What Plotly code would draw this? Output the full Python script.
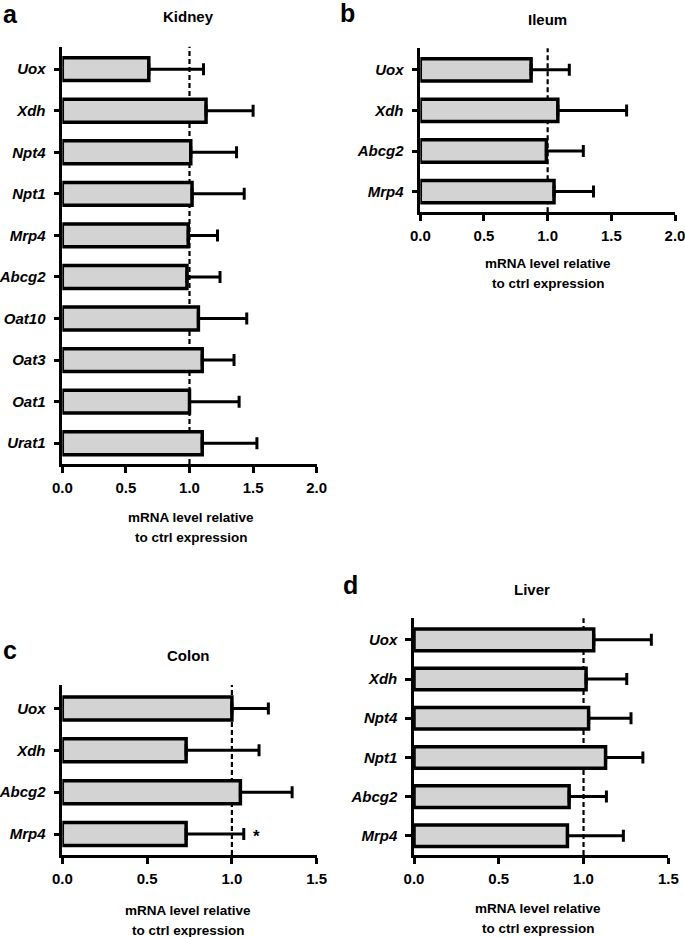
import plotly.graph_objects as go

W, H = 685, 937

# ---------------- data ----------------
kidney_genes = ["Uox", "Xdh", "Npt4", "Npt1", "Mrp4", "Abcg2", "Oat10", "Oat3", "Oat1", "Urat1"]
kidney_mean = [0.68, 1.13, 1.01, 1.02, 0.99, 0.98, 1.07, 1.10, 1.00, 1.10]
kidney_err = [0.43, 0.37, 0.36, 0.41, 0.23, 0.26, 0.38, 0.25, 0.39, 0.43]

ileum_genes = ["Uox", "Xdh", "Abcg2", "Mrp4"]
ileum_mean = [0.87, 1.08, 0.99, 1.05]
ileum_err = [0.30, 0.54, 0.29, 0.31]

colon_genes = ["Uox", "Xdh", "Abcg2", "Mrp4"]
colon_mean = [1.00, 0.73, 1.05, 0.73]
colon_err = [0.215, 0.43, 0.305, 0.34]

liver_genes = ["Uox", "Xdh", "Npt4", "Npt1", "Abcg2", "Mrp4"]
liver_mean = [1.06, 1.015, 1.03, 1.13, 0.915, 0.905]
liver_err = [0.34, 0.24, 0.25, 0.22, 0.22, 0.33]

panel_letters = ["a", "b", "c", "d"]
panel_titles = ["Kidney", "Ileum", "Colon", "Liver"]
axis_title_lines = ["mRNA level relative", "to ctrl expression"]
x_max = [2.0, 2.0, 1.5, 1.5]
colon_star_gene = "Mrp4"

FONT = "Arial, Liberation Sans, sans-serif"


def px_x(px):
    return px / W


def px_y(py):
    return 1 - py / H


# panel geometry in pixels: (x0, x1, y_top, y_bottom, top_pad, bottom_pad)
geom = [
    (62.3, 316.7, 46.7, 464.0, 0.54, 0.50),
    (420.3, 675.0, 48.3, 212.3, 0.53, 0.51),
    (62.3, 316.7, 685.0, 855.0, 0.56, 0.50),
    (414.0, 668.3, 618.3, 855.0, 0.55, 0.49),
]

panels = [
    (kidney_genes, kidney_mean, kidney_err),
    (ileum_genes, ileum_mean, ileum_err),
    (colon_genes, colon_mean, colon_err),
    (liver_genes, liver_mean, liver_err),
]

fig = go.Figure()
layout = dict(
    width=W, height=H, autosize=False,
    margin=dict(l=0, r=0, t=0, b=0, pad=0, autoexpand=False),
    paper_bgcolor="white", plot_bgcolor="rgba(0,0,0,0)",
    showlegend=False,
    font=dict(family=FONT, color="black"),
)
shapes = []

for i, (genes, mean, err) in enumerate(panels):
    k = "" if i == 0 else str(i + 1)
    x0, x1, yt, yb, tp, bp = geom[i]
    n = len(genes)
    fig.add_trace(go.Bar(
        x=mean, y=genes, orientation="h",
        xaxis="x" + k, yaxis="y" + k,
        width=0.55,
        marker=dict(color="#d3d3d3", line=dict(color="black", width=3.5)),
        error_x=dict(type="data", symmetric=False, array=err,
                     arrayminus=[0] * n, color="black", thickness=3, width=6),
        hoverinfo="skip",
    ))
    layout["xaxis" + k] = dict(
        domain=[px_x(x0), px_x(x1)], anchor="y" + k, automargin=False,
        range=[0, x_max[i]], dtick=0.5, tick0=0, tickformat=".1f",
        showline=True, linecolor="black", linewidth=2.5,
        ticks="outside", ticklen=6, tickwidth=2.5, tickcolor="black",
        tickfont=dict(family=FONT, size=15, weight="bold", color="black"),
        ticklabelstandoff=2, ticklabeloverflow="allow",
        showgrid=False, zeroline=False, fixedrange=True,
    )
    layout["yaxis" + k] = dict(
        domain=[px_y(yb), px_y(yt)], anchor="x" + k, automargin=False,
        type="category", categoryorder="array", categoryarray=genes,
        range=[n - 1 + bp, -tp],
        showline=True, linecolor="black", linewidth=2.5,
        ticks="outside", ticklen=6, tickwidth=2.5, tickcolor="black",
        tickfont=dict(family=FONT, size=15, weight="bold", style="italic", color="black"),
        ticklabelstandoff=5, ticklabeloverflow="allow",
        showgrid=False, zeroline=False, fixedrange=True,
    )
    shapes.append(dict(
        type="line", xref="x" + k, yref="y" + k + " domain",
        x0=1, x1=1, y0=0, y1=1, layer="below",
        line=dict(color="black", width=2.2, dash="5px,3px"),
    ))

layout["shapes"] = shapes

ann = []
# panel letters
for letter, (px, py) in zip(panel_letters, [(10, 14), (348, 13), (10, 650), (350, 585)]):
    ann.append(dict(text="<b>%s</b>" % letter, x=px_x(px), y=px_y(py), xref="paper", yref="paper",
                    xanchor="center", yanchor="middle", showarrow=False,
                    font=dict(family=FONT, size=25, color="black")))
# titles
for t, (px, py) in zip(panel_titles, [(188, 17), (547, 19), (188, 655), (532, 589)]):
    ann.append(dict(text="<b>%s</b>" % t, x=px_x(px), y=px_y(py), xref="paper", yref="paper",
                    xanchor="center", yanchor="middle", showarrow=False,
                    font=dict(family=FONT, size=15, color="black")))
# axis titles
for (px, py) in [(191, 517), (548, 263), (188, 910), (538, 908)]:
    for j, line in enumerate(axis_title_lines):
        ann.append(dict(text="<b>%s</b>" % line, x=px_x(px), y=px_y(py + 20 * j),
                        xref="paper", yref="paper", xanchor="center", yanchor="middle",
                        showarrow=False, font=dict(family=FONT, size=13.5, color="black")))
# significance star on colon Mrp4
si = colon_genes.index(colon_star_gene)
ann.append(dict(text="<b>*</b>", x=colon_mean[si] + colon_err[si], y=colon_star_gene,
                xref="x3", yref="y3", xanchor="left", yanchor="middle", xshift=7, yshift=-2,
                showarrow=False, font=dict(family=FONT, size=17, color="black")))
layout["annotations"] = ann

fig.update_layout(**layout)
# remove the browser's default 8px body margin so the figure fills the window exactly
fig.write_html("out.html", config={"displayModeBar": False},
               post_script="document.body.style.margin='0';")
